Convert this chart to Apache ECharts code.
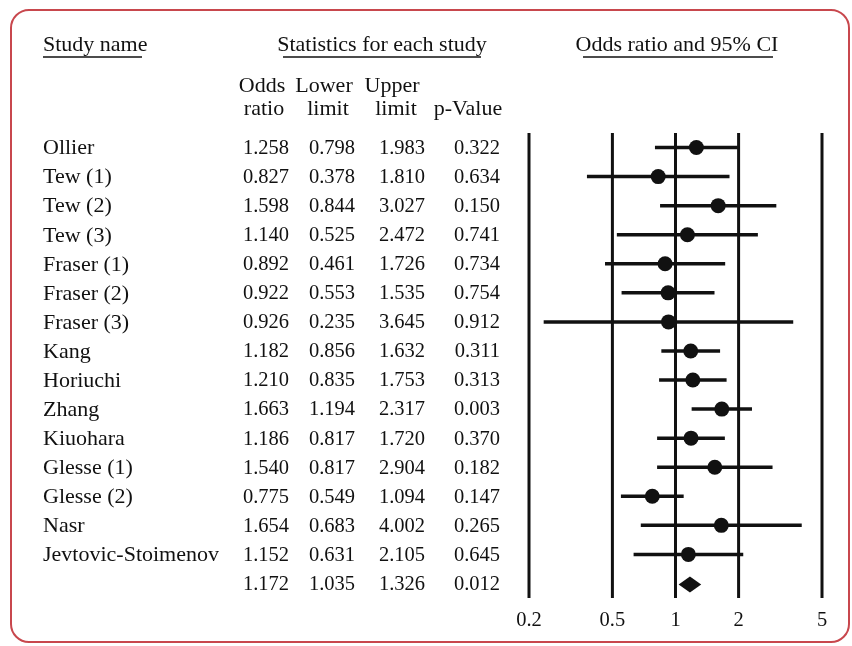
<!DOCTYPE html>
<html>
<head>
<meta charset="utf-8">
<script src="https://cdn.jsdelivr.net/npm/echarts@6/dist/echarts.min.js"></script>
<style>
html,body{margin:0;padding:0;background:#fff;}
#chart{width:852px;height:646px;}
</style>
</head>
<body>
<div id="chart"></div>
<script>
const studies = ['Ollier','Tew (1)','Tew (2)','Tew (3)','Fraser (1)','Fraser (2)','Fraser (3)','Kang','Horiuchi','Zhang','Kiuohara','Glesse (1)','Glesse (2)','Nasr','Jevtovic-Stoimenov',''];
const oddsRatio = [1.258,0.827,1.598,1.140,0.892,0.922,0.926,1.182,1.210,1.663,1.186,1.540,0.775,1.654,1.152,1.172];
const lowerLimit = [0.798,0.378,0.844,0.525,0.461,0.553,0.235,0.856,0.835,1.194,0.817,0.817,0.549,0.683,0.631,1.035];
const upperLimit = [1.983,1.810,3.027,2.472,1.726,1.535,3.645,1.632,1.753,2.317,1.720,2.904,1.094,4.002,2.105,1.326];
const pValue = ['0.322','0.634','0.150','0.741','0.734','0.754','0.912','0.311','0.313','0.003','0.370','0.182','0.147','0.265','0.645','0.012'];
const tickValues = [0.2,0.5,1,2,5];
const tickLabels = ['0.2','0.5','1','2','5'];
const summaryIndex = 15;

const FONT = '"Liberation Serif","Times New Roman",serif';
const FS = 22;   // words
const NS = 20.5; // numbers
const INK = '#111';

const chart = echarts.init(document.getElementById('chart'), null, {renderer:'canvas'});

const rowIdx = studies.map((s,i)=>i);

const option = {
  animation:false,
  backgroundColor:'#fff',
  grid:{left:529, right:30, top:133, height:465},
  xAxis:{type:'log', logBase:10, min:0.2, max:5, show:false},
  yAxis:{type:'category', data:rowIdx.map(String), inverse:true, show:false},
  series:[
    {
      type:'custom',
      clip:false,
      data:tickValues.map((v,i)=>[v,i]),
      renderItem:function(params, api){
        const v = api.value(0);
        const i = api.value(1);
        const cs = params.coordSys;
        const x = api.coord([v, 0])[0];
        return {type:'group', children:[
          {type:'line', shape:{x1:x,y1:cs.y,x2:x,y2:cs.y+cs.height}, style:{stroke:INK,lineWidth:3}},
          {type:'text', style:{text:tickLabels[i], x:x, y:cs.y+cs.height+23, align:'center', verticalAlign:'middle', font:'20.5px '+FONT, fill:INK}}
        ]};
      }
    },
    {
      type:'custom',
      clip:false,
      data:rowIdx.map(i=>[1,i]),
      renderItem:function(params, api){
        const i = api.value(1);
        const y = api.coord([1, i])[1] + 1;
        const t = (txt,x,align,fs)=>({type:'text', style:{text:txt, x:x, y:y, align:align, verticalAlign:'middle', font:fs+'px '+FONT, fill:INK}});
        return {type:'group', children:[
          t(studies[i],43,'left',FS),
          t(oddsRatio[i].toFixed(3),289,'right',NS),
          t(lowerLimit[i].toFixed(3),355,'right',NS),
          t(upperLimit[i].toFixed(3),425,'right',NS),
          t(pValue[i],500,'right',NS)
        ]};
      }
    },
    {
      type:'custom',
      clip:false,
      data:rowIdx.map(i=>[oddsRatio[i],lowerLimit[i],upperLimit[i],i]),
      renderItem:function(params, api){
        const i = api.value(3);
        const p = api.coord([api.value(0), i]);
        const lo = api.coord([api.value(1), i]);
        const hi = api.coord([api.value(2), i]);
        if(i===summaryIndex){
          return {type:'polygon', shape:{points:[[lo[0],p[1]+1],[p[0],p[1]-7],[hi[0],p[1]+1],[p[0],p[1]+9]]}, style:{fill:INK}};
        }
        return {type:'group', children:[
          {type:'line', shape:{x1:lo[0],y1:p[1],x2:hi[0],y2:p[1]}, style:{stroke:INK,lineWidth:3.5}},
          {type:'circle', shape:{cx:p[0],cy:p[1],r:7.5}, style:{fill:INK}}
        ]};
      }
    }
  ],
  graphic:[
    {type:'rect', shape:{x:11,y:10,width:838,height:632,r:18}, style:{fill:'none',stroke:'#c8474d',lineWidth:2}},
    {type:'text', style:{text:'Study name', x:43, y:45, verticalAlign:'middle', font:FS+'px '+FONT, fill:INK}},
    {type:'line', shape:{x1:43,y1:57,x2:142,y2:57}, style:{stroke:INK,lineWidth:1.5}},
    {type:'text', style:{text:'Statistics for each study', x:382, y:45, align:'center', verticalAlign:'middle', font:FS+'px '+FONT, fill:INK}},
    {type:'line', shape:{x1:283,y1:57,x2:481,y2:57}, style:{stroke:INK,lineWidth:1.5}},
    {type:'text', style:{text:'Odds ratio and 95% CI', x:677, y:45, align:'center', verticalAlign:'middle', font:FS+'px '+FONT, fill:INK}},
    {type:'line', shape:{x1:583,y1:57,x2:773,y2:57}, style:{stroke:INK,lineWidth:1.5}},
    {type:'text', style:{text:'Odds', x:262, y:86, align:'center', verticalAlign:'middle', font:FS+'px '+FONT, fill:INK}},
    {type:'text', style:{text:'ratio', x:264, y:109, align:'center', verticalAlign:'middle', font:FS+'px '+FONT, fill:INK}},
    {type:'text', style:{text:'Lower', x:324, y:86, align:'center', verticalAlign:'middle', font:FS+'px '+FONT, fill:INK}},
    {type:'text', style:{text:'limit', x:328, y:109, align:'center', verticalAlign:'middle', font:FS+'px '+FONT, fill:INK}},
    {type:'text', style:{text:'Upper', x:392, y:86, align:'center', verticalAlign:'middle', font:FS+'px '+FONT, fill:INK}},
    {type:'text', style:{text:'limit', x:396, y:109, align:'center', verticalAlign:'middle', font:FS+'px '+FONT, fill:INK}},
    {type:'text', style:{text:'p-Value', x:468, y:109, align:'center', verticalAlign:'middle', font:FS+'px '+FONT, fill:INK}}
  ]
};
chart.setOption(option);
</script>
</body>
</html>
